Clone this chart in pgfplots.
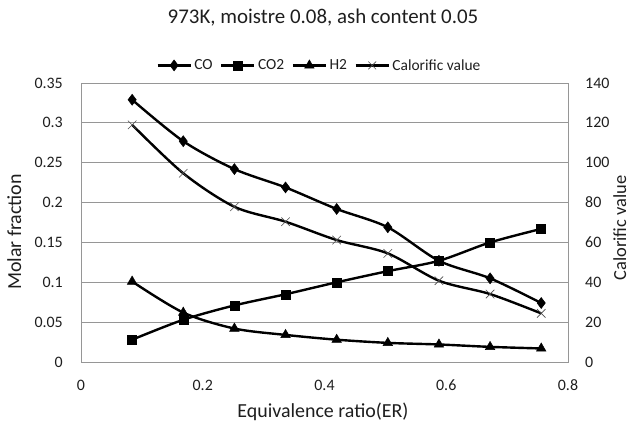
\documentclass[border=0pt]{standalone}
\usepackage{fontspec}
\setmainfont{Carlito}
\usepackage{pgfplots}
\pgfplotsset{compat=1.18}
\definecolor{gridgray}{RGB}{150,150,150}
\definecolor{txt}{RGB}{30,30,30}
\begin{document}
\begin{tikzpicture}[x=1bp,y=1bp]
\path[use as bounding box] (0,0) rectangle (635,-423);
\node[font=\fontsize{21}{24}\selectfont, text=txt] at (323,-18) {973K, moistre 0.08, ash content 0.05};
\pgfplotsset{
  every axis/.append style={
    at={(81bp,-362bp)}, anchor=south west, scale only axis,
    width=487bp, height=279bp,
    xmin=0, xmax=0.8,
    tick style={draw=none},
    axis line style={draw=gridgray, line width=0.75bp},
    tick label style={font=\fontsize{16}{18}\selectfont, text=txt, inner sep=0pt},
    /pgf/number format/assume math mode=true,
  },
  legend image code/.code={\draw[mark repeat=2,mark phase=2,#1] plot coordinates {(0bp,0bp) (16.5bp,0bp) (33bp,0bp)};},
}
\begin{axis}[
  ymin=0, ymax=0.35,
  xtick={0,0.2,0.4,0.6,0.8},
  ytick={0,0.05,0.1,0.15,0.2,0.25,0.3,0.35},
  yticklabel style={/pgf/number format/.cd, fixed, precision=2, /tikz/.cd, anchor=east, xshift=-18bp},
  xticklabel style={/pgf/number format/.cd, fixed, precision=1, /tikz/.cd, anchor=center, yshift=-23bp},
  ymajorgrids, grid style={draw=gridgray, line width=0.75bp},
  legend style={at={(0.49,1.063)}, anchor=center, draw=none, fill=none,
    legend columns=4, font=\fontsize{15.5}{17}\selectfont,
    /tikz/every even column/.append style={column sep=5bp},
    inner sep=0pt, nodes={inner sep=2.5bp, text=txt}},
  legend cell align=left,
]
\addplot[black, line width=2.4bp, smooth, tension=0.5, mark=diamond*, mark size=5.5bp, mark options={line width=0.5bp}]
coordinates {(0.084,0.329) (0.168,0.277) (0.252,0.242) (0.336,0.219) (0.42,0.192) (0.504,0.169) (0.588,0.127) (0.672,0.105) (0.756,0.074)};
\addlegendentry{CO}
\addplot[black, line width=2.4bp, smooth, tension=0.5, mark=square*, mark size=4.5bp, mark options={line width=0.5bp}]
coordinates {(0.084,0.028) (0.168,0.053) (0.252,0.071) (0.336,0.085) (0.42,0.100) (0.504,0.114) (0.588,0.127) (0.672,0.150) (0.756,0.167)};
\addlegendentry{CO2}
\addplot[black, line width=2.4bp, smooth, tension=0.5, mark=triangle*, mark size=5.5bp, mark options={line width=0.5bp}]
coordinates {(0.084,0.101) (0.168,0.062) (0.252,0.042) (0.336,0.034) (0.42,0.028) (0.504,0.024) (0.588,0.022) (0.672,0.019) (0.756,0.017)};
\addlegendentry{H2}
\addlegendimage{black, line width=2.4bp, mark=x, mark size=5.5bp, mark options={line width=0.6bp, draw=black!70}}
\addlegendentry{Calorific value}
\end{axis}
\begin{axis}[
  axis x line=none,
  axis y line*=right,
  ymin=0, ymax=140,
  ytick={0,20,...,140},
  yticklabel style={anchor=west, xshift=17bp},
]
\addplot[black, line width=2.4bp, smooth, tension=0.5, mark=x, mark size=6bp, mark options={line width=0.6bp, draw=black!70}]
coordinates {(0.084,119.0) (0.168,94.7) (0.252,77.9) (0.336,70.4) (0.42,61.2) (0.504,54.5) (0.588,40.8) (0.672,34.1) (0.756,24.4)};
\end{axis}
\node[font=\fontsize{20}{22}\selectfont, text=txt] at (323,-412) {Equivalence ratio(ER)};
\node[font=\fontsize{20}{22}\selectfont, text=txt, rotate=90, anchor=north, inner sep=0pt] at (7,-232) {Molar fraction};
\node[font=\fontsize{18.5}{21}\selectfont, text=txt, rotate=90, anchor=north, inner sep=0pt] at (613,-228) {Calorific value};
\end{tikzpicture}
\end{document}
